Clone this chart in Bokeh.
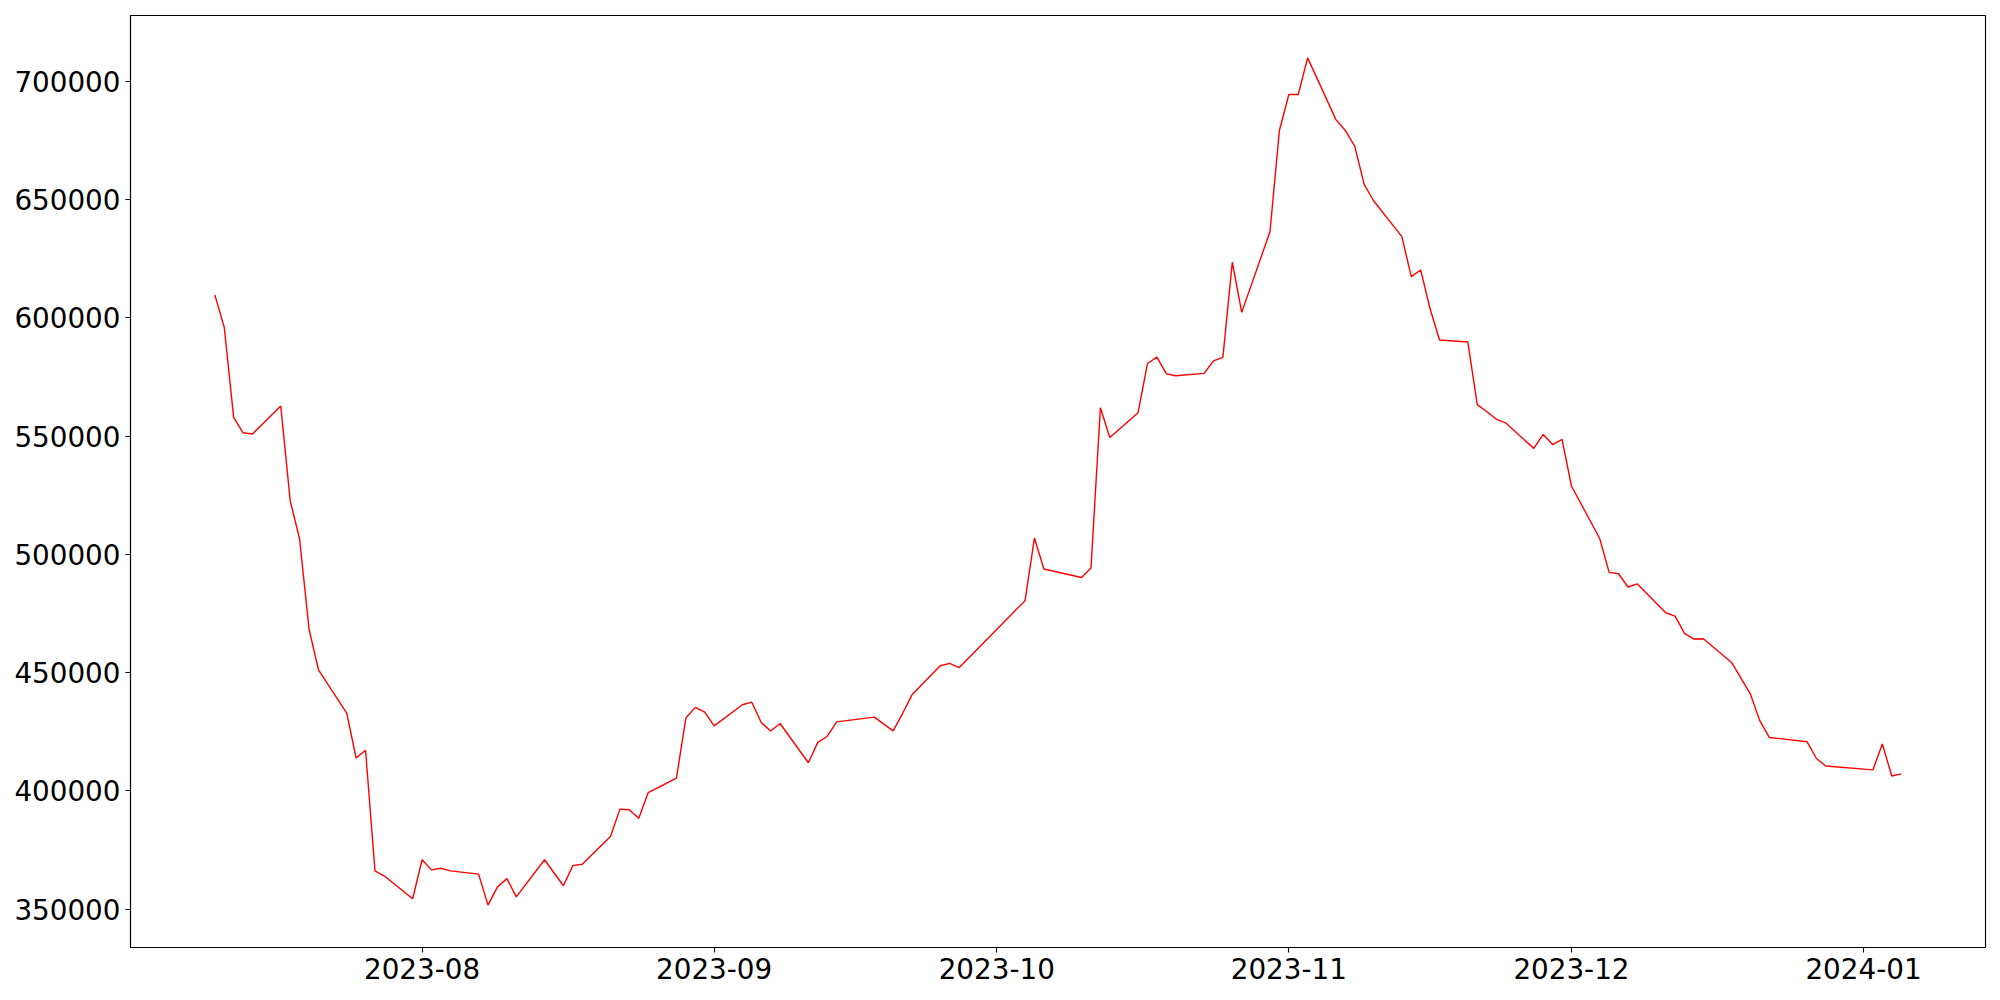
import pandas as pd
from bokeh.plotting import figure
from bokeh.models import Range1d, FixedTicker, DatetimeTickFormatter, NumeralTickFormatter, ColumnDataSource
from bokeh.embed import file_html
from bokeh.resources import INLINE

dates = [
    "2023-07-10", "2023-07-11", "2023-07-12", "2023-07-13", "2023-07-14",
    "2023-07-17", "2023-07-18", "2023-07-19", "2023-07-20", "2023-07-21",
    "2023-07-24", "2023-07-25", "2023-07-26", "2023-07-27", "2023-07-28",
    "2023-07-31", "2023-08-01", "2023-08-02", "2023-08-03", "2023-08-04",
    "2023-08-07", "2023-08-08", "2023-08-09", "2023-08-10", "2023-08-11",
    "2023-08-14", "2023-08-16", "2023-08-17", "2023-08-18",
    "2023-08-21", "2023-08-22", "2023-08-23", "2023-08-24", "2023-08-25",
    "2023-08-28", "2023-08-29", "2023-08-30", "2023-08-31", "2023-09-01",
    "2023-09-04", "2023-09-05", "2023-09-06", "2023-09-07", "2023-09-08",
    "2023-09-11", "2023-09-12", "2023-09-13", "2023-09-14",
    "2023-09-18", "2023-09-20", "2023-09-21", "2023-09-22",
    "2023-09-25", "2023-09-26", "2023-09-27",
    "2023-10-04", "2023-10-05", "2023-10-06",
    "2023-10-10", "2023-10-11", "2023-10-12", "2023-10-13",
    "2023-10-16", "2023-10-17", "2023-10-18", "2023-10-19", "2023-10-20",
    "2023-10-23", "2023-10-24", "2023-10-25", "2023-10-26", "2023-10-27",
    "2023-10-30", "2023-10-31", "2023-11-01", "2023-11-02", "2023-11-03",
    "2023-11-06", "2023-11-07", "2023-11-08", "2023-11-09", "2023-11-10",
    "2023-11-13", "2023-11-14", "2023-11-15", "2023-11-16", "2023-11-17",
    "2023-11-20", "2023-11-21", "2023-11-22", "2023-11-23", "2023-11-24",
    "2023-11-27", "2023-11-28", "2023-11-29", "2023-11-30", "2023-12-01",
    "2023-12-04", "2023-12-05", "2023-12-06", "2023-12-07", "2023-12-08",
    "2023-12-11", "2023-12-12", "2023-12-13", "2023-12-14", "2023-12-15",
    "2023-12-18", "2023-12-20", "2023-12-21", "2023-12-22",
    "2023-12-26", "2023-12-27", "2023-12-28",
    "2024-01-02", "2024-01-03", "2024-01-04", "2024-01-05",
]

values = [
    609700, 596000, 557900, 551400, 550900,
    562700, 522700, 506500, 468400, 451200,
    432900, 413900, 417200, 366200, 364000,
    354400, 370900, 366600, 367300, 366200,
    364800, 351700, 359400, 362900, 355200,
    370900, 359900, 368400, 369000,
    380700, 392300, 392000, 388400, 399300,
    405400, 430800, 435300, 433300, 427500,
    436400, 437500, 428900, 425300, 428500,
    411900, 420500, 423000, 429200,
    431200, 425400, 432700, 440600,
    452900, 453900, 452100,
    480400, 506900, 493800,
    490200, 494200, 562000, 549400,
    559900, 580700, 583400, 576300, 575500,
    576500, 581800, 583300, 623500, 602300,
    636400, 679200, 694400, 694400, 709900,
    683800, 679200, 672500, 656400, 649500,
    634300, 617400, 620200, 603700, 590600,
    589800, 563300, 560400, 557200, 555600,
    544800, 550700, 546400, 548600, 528900,
    506700, 492400, 491800, 486200, 487500,
    475300, 473900, 466600, 464200, 464300,
    454300, 440900, 429600, 422600,
    420800, 413700, 410500,
    408900, 419800, 406300, 407200,
]

x_tick_dates = ["2023-08-01", "2023-09-01", "2023-10-01", "2023-11-01", "2023-12-01", "2024-01-01"]
y_ticks = [350000, 400000, 450000, 500000, 550000, 600000, 650000, 700000]

xs = pd.to_datetime(dates)
src = ColumnDataSource(data=dict(x=xs, y=values))

# matplotlib-like 5% margins
x0, x1 = xs.min(), xs.max()
xpad = (x1 - x0) * 0.05
y0, y1 = min(values), max(values)
ypad = (y1 - y0) * 0.05

p = figure(
    width=2000, height=1000,
    x_axis_type="datetime",
    x_range=Range1d(x0 - xpad, x1 + xpad),
    y_range=Range1d(y0 - ypad, y1 + ypad),
    output_backend="svg", toolbar_location=None,
    min_border_left=130, min_border_right=15, min_border_top=15, min_border_bottom=53,
)
p.background_fill_color = "white"
p.border_fill_color = "white"
p.outline_line_color = "black"
p.outline_line_width = 1.1
p.grid.visible = False

p.line("x", "y", source=src, line_color="#ff0000", line_width=1.4)

tick_ms = [pd.Timestamp(d).value / 1e6 for d in x_tick_dates]
p.xaxis.ticker = FixedTicker(ticks=tick_ms)
p.xaxis.formatter = DatetimeTickFormatter(
    years="%Y-%m", months="%Y-%m", days="%Y-%m", hours="%Y-%m",
    minutes="%Y-%m", seconds="%Y-%m", milliseconds="%Y-%m", microseconds="%Y-%m",
)
p.yaxis.ticker = FixedTicker(ticks=y_ticks)
p.yaxis.formatter = NumeralTickFormatter(format="0")

for ax in (p.xaxis, p.yaxis):
    ax.major_label_text_font = "DejaVu Sans"
    ax.major_label_text_font_size = "27.8px"
    ax.major_label_text_color = "black"
    ax.axis_line_color = "black"
    ax.axis_line_width = 1.1
    ax.major_tick_line_color = "black"
    ax.major_tick_line_width = 1.1
    ax.major_tick_out = 5
    ax.major_tick_in = 0
    ax.minor_tick_line_color = None

p.xaxis.major_label_standoff = 5
p.yaxis.major_label_standoff = 5

open("out.html", "w").write(file_html(p, INLINE))
